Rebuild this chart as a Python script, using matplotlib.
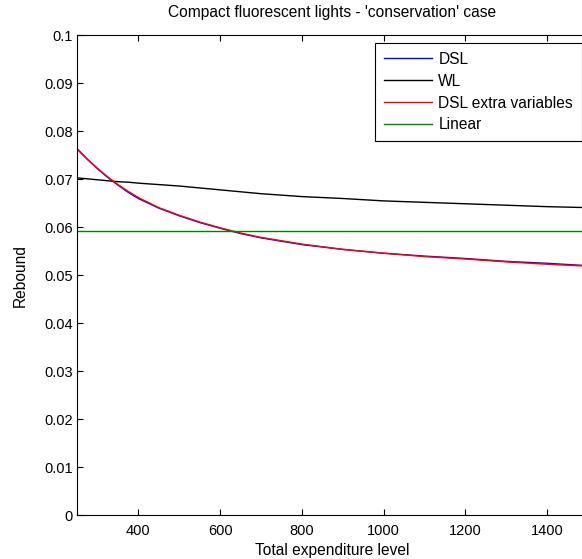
import matplotlib
matplotlib.use("Agg")
import matplotlib.pyplot as plt
from matplotlib.ticker import FormatStrFormatter, MultipleLocator

plt.rcParams["font.family"] = ["Liberation Sans", "DejaVu Sans"]
plt.rcParams["font.size"] = 11

# values
expenditure = [250, 275, 300, 325, 350, 375, 400, 450, 500, 550, 600, 650, 700,
               800, 900, 1000, 1100, 1200, 1300, 1400, 1500]
dsl = [0.0764, 0.0742, 0.0722, 0.0704, 0.0688, 0.0673, 0.0660, 0.0640, 0.0624,
       0.0610, 0.0598, 0.0587, 0.0578, 0.0564, 0.0554, 0.0546, 0.0540, 0.0535,
       0.0529, 0.0525, 0.0520]
wl = [0.0703, 0.0701, 0.0699, 0.0697, 0.0695, 0.0694, 0.0692, 0.0689, 0.0686,
      0.0682, 0.0678, 0.0674, 0.0670, 0.0664, 0.0660, 0.0655, 0.0652, 0.0649,
      0.0646, 0.0643, 0.0641]
dsl_extra = [0.0763, 0.0742, 0.0723, 0.0705, 0.0689, 0.0675, 0.0662, 0.0641, 0.0625,
             0.0611, 0.0599, 0.0588, 0.0579, 0.0565, 0.0554, 0.0546, 0.0539, 0.0534,
             0.0528, 0.0523, 0.0519]
linear = [0.0592] * len(expenditure)

W, H = 582, 559
fig = plt.figure(figsize=(W / 100, H / 100), dpi=100)
# axes runs past the right edge of the picture (cropped original)
ax = fig.add_axes([77 / W, (H - 515.3) / H, 511 / W, 480 / H])

ax.plot(expenditure, dsl, color="blue", lw=1, label="DSL")
ax.plot(expenditure, wl, color="black", lw=1, label="WL")
ax.plot(expenditure, dsl_extra, color="red", lw=1, label="DSL extra variables")
ax.plot(expenditure, linear, color=(0, 0.5, 0), lw=1, label="Linear")

ax.set_xlim(250, 1500)
ax.set_ylim(0, 0.1)
ax.xaxis.set_major_locator(MultipleLocator(200))
ax.yaxis.set_major_locator(MultipleLocator(0.01))
ax.yaxis.set_major_formatter(FormatStrFormatter("%g"))
ax.tick_params(direction="in", length=4, width=0.8, top=True, right=True, labelsize=10.5)
ax.tick_params(axis="x", pad=6)
ax.tick_params(axis="y", pad=3)
for s in ax.spines.values():
    s.set_linewidth(0.8)

ax.set_title("Compact fluorescent lights - 'conservation' case", fontsize=11.2, pad=13)
ax.set_xlabel("Total expenditure level", fontsize=11.2, labelpad=4)
ax.set_ylabel("Rebound", fontsize=11.2, labelpad=12)

leg = fig.legend(loc="upper right", bbox_to_anchor=(581.5 / W, (H - 43.3) / H),
                 borderaxespad=0, fancybox=False, framealpha=1, edgecolor="black",
                 handlelength=3.1, handletextpad=0.4, labelspacing=0.44,
                 borderpad=0.55, fontsize=11.2)
leg.get_frame().set_linewidth(0.8)

fig.savefig("out.png", dpi=100)
